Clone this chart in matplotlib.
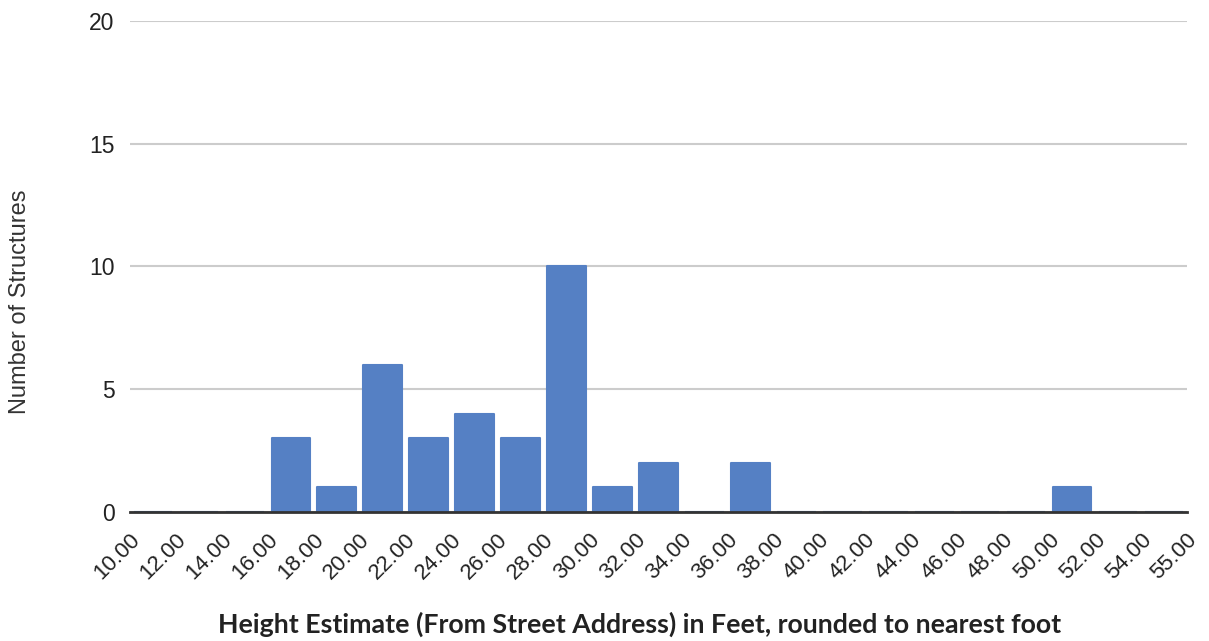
import matplotlib
matplotlib.use("Agg")
import matplotlib.pyplot as plt
from matplotlib.transforms import ScaledTranslation
import numpy as np

# Bin edges (feet) and counts per bin
edge_labels = ["10.00", "12.00", "14.00", "16.00", "18.00", "20.00", "22.00", "24.00",
               "26.00", "28.00", "30.00", "32.00", "34.00", "36.00", "38.00", "40.00",
               "42.00", "44.00", "46.00", "48.00", "50.00", "52.00", "54.00", "55.00"]
counts = [0, 0, 0, 3, 1, 6, 3, 4, 3, 10, 1, 2, 0, 2, 0, 0, 0, 0, 0, 0, 1, 0, 0]
y_ticks = [0, 5, 10, 15, 20]

bar_color = "#5580c4"

fig = plt.figure(figsize=(12.09, 6.41), dpi=100)
ax = fig.add_axes([0.1075, 0.2013, 0.8743, 0.7659])

centers = np.arange(len(counts)) + 0.5
ax.bar(centers, counts, width=0.84, color=bar_color, edgecolor=bar_color,
       linewidth=1.5, joinstyle="round", zorder=3)

ax.set_xlim(0, len(counts))
ax.set_ylim(0, 20)
ax.set_yticks(y_ticks)
ax.set_yticklabels([str(v) for v in y_ticks], fontsize=16.5, color="#222222",
                   family="Liberation Sans")
ax.set_xticks(np.arange(len(edge_labels)))
ax.set_xticklabels(edge_labels, rotation=45, ha="right", va="center",
                   rotation_mode="anchor", fontsize=16, color="#222222",
                   family="Liberation Sans")
ax.tick_params(axis="both", length=0)
ax.tick_params(axis="y", pad=11)
ax.tick_params(axis="x", pad=18)

# nudge the slanted edge labels slightly to the right of their ticks
shift = ScaledTranslation(0.07, 0, fig.dpi_scale_trans)
for lbl in ax.get_xticklabels():
    lbl.set_transform(lbl.get_transform() + shift)

ax.grid(axis="y", color="#cccccc", linewidth=1.5, zorder=0)
for side in ["top", "right", "left"]:
    ax.spines[side].set_visible(False)
ax.spines["bottom"].set_color("#333333")
ax.spines["bottom"].set_linewidth(2)
ax.spines["bottom"].set_zorder(4)

fig.text(0.0165, 0.53, "Number of Structures", rotation=90, ha="center", va="center",
         fontsize=17, color="#333333", family="Liberation Sans")
fig.text(0.5294, 0.0125, "Height Estimate (From Street Address) in Feet, rounded to nearest foot",
         ha="center", va="baseline", fontsize=19.3, fontweight="bold", color="#222222",
         family="Lato")

fig.savefig("out.png", dpi=100, facecolor="white")
